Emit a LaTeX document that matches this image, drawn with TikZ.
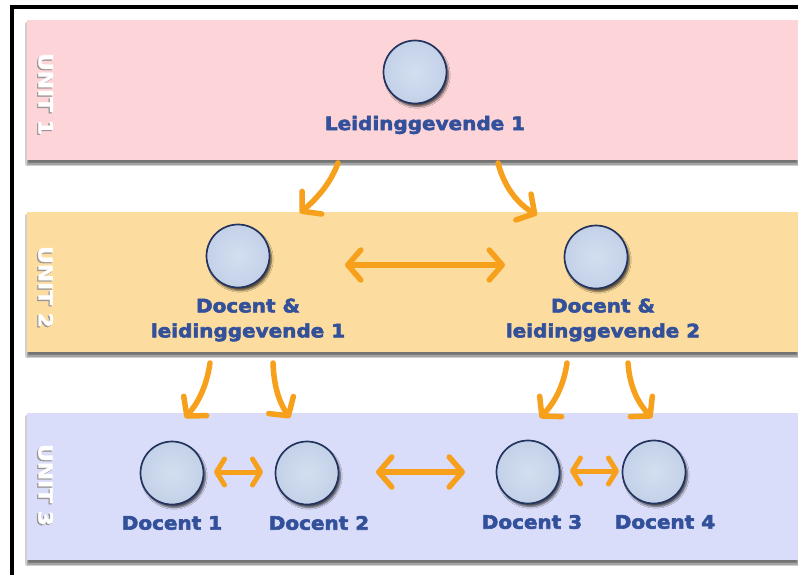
\documentclass[tikz,border=0pt]{standalone}
\usepackage{fontspec}
\newfontfamily\lblfont{DejaVu Sans Bold}[FakeStretch=1.08,FakeBold=3]
\newfontfamily\unitfont{DejaVu Sans Bold}[FakeStretch=1.12,FakeBold=2]
\usetikzlibrary{arrows.meta,shadows.blur}
\definecolor{bandpink}{HTML}{FDD5D8}
\definecolor{bandpeach}{HTML}{FDDD9F}
\definecolor{bandlav}{HTML}{D9DDF9}
\definecolor{circfill}{HTML}{C3D1E8}
\definecolor{circlight}{HTML}{D3DEF0}
\definecolor{circline}{HTML}{24345F}
\definecolor{txtblue}{HTML}{33509A}
\definecolor{arrorange}{HTML}{F6A01C}
\definecolor{unitshade}{HTML}{9C9494}
\newcommand\embossedtext[1]{\rlap{\kern1.2pt\raisebox{-1.2pt}{\textcolor{unitshade}{#1}}}\textcolor{white}{#1}}
\begin{document}
\begin{tikzpicture}[x=1pt,y=-1pt,
  bandshadow/.style={blur shadow={shadow xshift=0pt, shadow yshift=-4pt, shadow blur steps=6, shadow opacity=55}},
  person/.style={circle, minimum size=63pt, inner sep=0pt, inner color=circlight, outer color=circfill, draw=circline, line width=1.7pt,
    blur shadow={shadow xshift=2pt, shadow yshift=-3pt, shadow blur steps=5, shadow opacity=65}},
  lbl/.style={text=txtblue, font=\lblfont\fontsize{18.5}{25}\selectfont, align=center, inner sep=0pt},
  unitlbl/.style={font=\unitfont\fontsize{19.5}{20}\selectfont, rotate=-90, inner sep=0pt},
  tipbig/.tip={Straight Barb[length=13pt,width=30pt,round]},
  tipsmall/.tip={Straight Barb[length=8pt,width=26pt,round]},
  conn/.style={draw=arrorange, line width=5.5pt, line cap=round, line join=round, -tipbig},
  dconn/.style={draw=arrorange, line width=5.5pt, line cap=round, line join=round, tipbig-tipbig},
  dconnsmall/.style={draw=arrorange, line width=5pt, line cap=round, line join=round, tipsmall-tipsmall}
]
\useasboundingbox (0,0) rectangle (798,575);
\fill[white] (0,0) rectangle (798,575);

% bands
\fill[bandpink, bandshadow] (27,20) rectangle (798,160);
\fill[bandpeach, bandshadow] (27,212) rectangle (798,352);
\fill[bandlav, bandshadow] (27,413) rectangle (798,560);

% frame
\draw[black, line width=4pt] (10,7) -- (798,7);
\draw[black, line width=4pt] (11.5,5) -- (11.5,575);

% unit labels
\node[unitlbl] (u1) at (45,94) {\embossedtext{UNIT 1}};
\node[unitlbl] (u2) at (45,287) {\embossedtext{UNIT 2}};
\node[unitlbl] (u3) at (45,485) {\embossedtext{UNIT 3}};

% people
\node[person] (L1) at (415,72) {};
\node[lbl] (tL1) at (425,125) {Leidinggevende 1};

\node[person] (DL1) at (238,256) {};
\node[lbl] (tDL1) at (248,320) {Docent \&\\leidinggevende 1};
\node[person] (DL2) at (596,257) {};
\node[lbl] (tDL2) at (603,320) {Docent \&\\leidinggevende 2};

\node[person] (D1) at (172,473) {};
\node[lbl] (tD1) at (172,523) {Docent 1};
\node[person] (D2) at (307,473) {};
\node[lbl] (tD2) at (319,523) {Docent 2};
\node[person] (D3) at (528,472) {};
\node[lbl] (tD3) at (532,522) {Docent 3};
\node[person] (D4) at (654,472) {};
\node[lbl] (tD4) at (665,522) {Docent 4};

% arrow end points
\coordinate (a1s) at (338,163); \coordinate (a1e) at (300,213);
\coordinate (a2s) at (498,163); \coordinate (a2e) at (537,215);
\coordinate (a3s) at (345,265); \coordinate (a3e) at (505,265);
\coordinate (a4s) at (210,363); \coordinate (a4e) at (185,418);
\coordinate (a5s) at (273,363); \coordinate (a5e) at (290,418);
\coordinate (a6s) at (567,363); \coordinate (a6e) at (540,418);
\coordinate (a7s) at (628,363); \coordinate (a7e) at (652,418);
\coordinate (a8s) at (214,472); \coordinate (a8e) at (263,472);
\coordinate (a9s) at (376,472); \coordinate (a9e) at (465,472);
\coordinate (a10s) at (570,471); \coordinate (a10e) at (619,471);

\draw[conn] (a1s) .. controls (330,185) and (315,200) .. (a1e);
\draw[conn] (a2s) .. controls (505,190) and (520,205) .. (a2e);
\draw[dconn] (a3s) -- (a3e);
\draw[conn] (a4s) .. controls (206,390) and (196,405) .. (a4e);
\draw[conn] (a5s) .. controls (274,390) and (281,405) .. (a5e);
\draw[conn] (a6s) .. controls (563,390) and (552,405) .. (a6e);
\draw[conn] (a7s) .. controls (630,390) and (640,405) .. (a7e);
\draw[dconnsmall] (a8s) -- (a8e);
\draw[dconn] (a9s) -- (a9e);
\draw[dconnsmall] (a10s) -- (a10e);
\end{tikzpicture}
\end{document}
